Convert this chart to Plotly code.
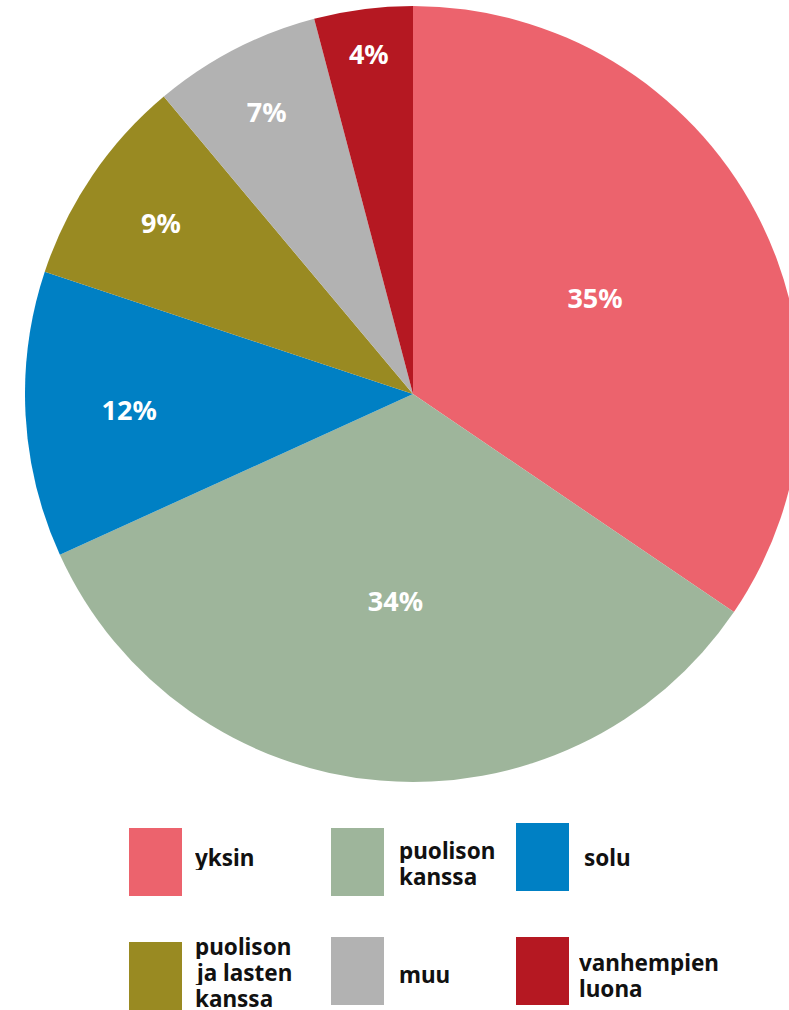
import plotly.graph_objects as go

# ---- data ----
categories = ["yksin", "puolison kanssa", "solu", "puolison ja lasten kanssa", "muu", "vanhempien luona"]
legend_labels = ["yksin", "puolison<br>kanssa", "solu", "puolison<br>ja lasten<br>kanssa", "muu", "vanhempien<br>luona"]
values = [34.5, 33.7, 11.9, 8.8, 7.0, 4.1]
pct_labels = ["35%", "34%", "12%", "9%", "7%", "4%"]
colors = ["#EC636D", "#9EB59B", "#0080C4", "#998A22", "#B2B2B2", "#B51822"]

W, H = 826, 1010
FONT = "Noto Sans"

def px(x):
    return x / W

def py(y):
    return 1 - y / H

fig = go.Figure()
fig.add_trace(go.Pie(
    labels=categories,
    values=values,
    text=pct_labels,
    textinfo="text",
    textposition="inside",
    insidetextorientation="horizontal",
    sort=False,
    direction="clockwise",
    rotation=0,
    marker=dict(colors=colors, line=dict(width=0)),
    textfont=dict(family=FONT, size=27, color="white", weight="bold"),
    domain=dict(x=[0, 1], y=[py(782), py(6)]),
    showlegend=False,
    hoverinfo="label+text",
))

# legend boxes: (left, top) in pixels, text x, first-line center y
legend_layout = [
    (129, 828, 196, 857),
    (331, 828, 400, 850),
    (516, 823, 585, 857),
    (129, 942, 196, 946),
    (331, 937, 400, 974),
    (516, 937, 580, 962),
]
LINE = 26
bw, bh = 53, 68
shapes = []
annotations = []
for (x0, y0, tx, ty), lab, col in zip(legend_layout, legend_labels, colors):
    shapes.append(dict(type="rect", xref="paper", yref="paper",
                       x0=px(x0), x1=px(x0 + bw), y0=py(y0 + bh), y1=py(y0),
                       fillcolor=col, line=dict(width=0)))
    for i, line in enumerate(lab.split("<br>")):
        annotations.append(dict(xref="paper", yref="paper", x=px(tx - 2), y=py(ty + i * LINE),
                                xanchor="left", yanchor="middle", align="left",
                                text=line, showarrow=False, height=LINE, borderpad=0,
                                font=dict(family=FONT, size=22.5, color="#111111", weight="bold")))

fig.update_layout(
    width=W, height=H,
    margin=dict(l=0, r=0, t=0, b=0),
    paper_bgcolor="white",
    plot_bgcolor="white",
    shapes=shapes,
    annotations=annotations,
)

fig.write_html("out.html",
               config={"displayModeBar": False},
               post_script="document.body.style.margin='0';document.body.style.overflow='hidden';document.documentElement.style.overflow='hidden';")
